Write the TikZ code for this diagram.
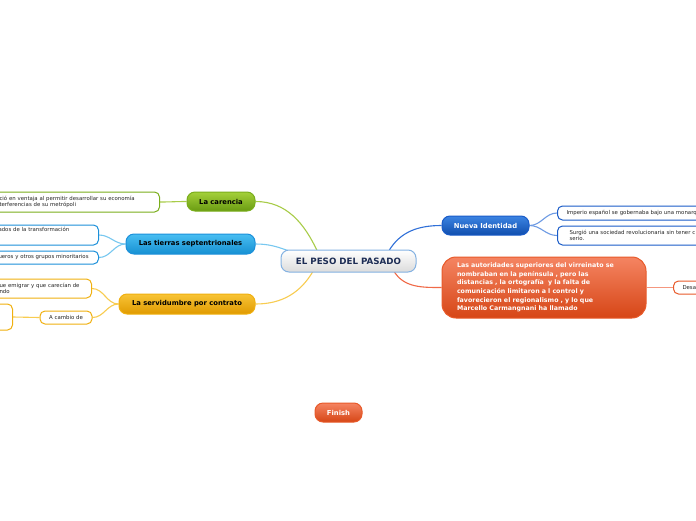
\documentclass[tikz,border=0pt]{standalone}
\usepackage{fontspec}
\setmainfont{DejaVu Sans}
\usetikzlibrary{calc,backgrounds}
\definecolor{grnT}{HTML}{A4D03A}
\definecolor{grnB}{HTML}{6A9C12}
\definecolor{grnD}{HTML}{7AAE1C}
\definecolor{grnL}{HTML}{A8CC48}
\definecolor{lbT}{HTML}{48BEF2}
\definecolor{lbB}{HTML}{1690D2}
\definecolor{lbD}{HTML}{1C90DA}
\definecolor{lbL}{HTML}{78C8F0}
\definecolor{yeT}{HTML}{F8C436}
\definecolor{yeB}{HTML}{E09A00}
\definecolor{yeD}{HTML}{F0B010}
\definecolor{yeL}{HTML}{F8CC50}
\definecolor{dbT}{HTML}{3C84E2}
\definecolor{dbB}{HTML}{104EAE}
\definecolor{dbD}{HTML}{1A5CC8}
\definecolor{dbL}{HTML}{3070D8}
\definecolor{rdT}{HTML}{F58462}
\definecolor{rdB}{HTML}{D64616}
\definecolor{rdD}{HTML}{E85A2A}
\definecolor{rdL}{HTML}{F06A48}
\definecolor{ctrB}{HTML}{84B2E2}
\definecolor{ctrT}{HTML}{1C2C54}
\tikzset{
  topic/.style={rounded corners=8pt, draw, line width=1pt, inner sep=0pt,
    align=center, font=\bfseries\fontsize{6.8}{8}\selectfont},
  sub/.style={rounded corners=5pt, draw, fill=white, line width=1pt, inner sep=0pt,
    font=\fontsize{5.4}{6.4}\selectfont, align=left, text=black!85},
  conn/.style={line width=1.1pt},
}
\begin{document}
\begin{tikzpicture}[x=1pt,y=-1pt]
\useasboundingbox (0,0) rectangle (696,520);
\clip (0,0) rectangle (696,520);

% central node
\node[topic, top color=white, bottom color=black!14, draw=ctrB, text=ctrT,
  minimum width=135pt, minimum height=22pt, font=\bfseries\fontsize{8.7}{10}\selectfont]
  (ctr) at (348.5,261) {EL PESO DEL PASADO};

% main branches
\node[topic, top color=grnT, bottom color=grnB, draw=grnD, text=black,
  minimum width=68pt, minimum height=19pt] (car) at (221,201.5) {La carencia};
\node[topic, top color=lbT, bottom color=lbB, draw=lbD, text=black,
  minimum width=129pt, minimum height=20pt] (tie) at (190.5,244) {Las tierras septentrionales};
\node[topic, top color=yeT, bottom color=yeB, draw=yeD, text=black,
  minimum width=136pt, minimum height=20pt] (ser) at (187,304) {La servidumbre por contrato};
\node[topic, top color=dbT, bottom color=dbB, draw=dbD, text=white,
  minimum width=87pt, minimum height=19pt] (nue) at (485.5,225.5) {Nueva Identidad};
\node[topic, top color=rdT, bottom color=rdB, draw=rdD, text=white,
  rounded corners=14pt, minimum height=61pt, text width=174pt, inner xsep=15pt,
  align=left, font=\bfseries\fontsize{6.3}{8.7}\selectfont]
  (red) at (544,287.5) {Las autoridades superiores del virreinato se\\
  nombraban en la península , pero las\\
  distancias , la ortografía \ y la falta de\\
  comunicación limitaron a l control y\\
  favorecieron el regionalismo , y lo que\\
  Marcello Carmangnani ha llamado};
\node[topic, top color=rdT, bottom color=rdB, draw=rdD, text=white,
  minimum width=47pt, minimum height=19pt] (fin) at (338.5,412.5) {Finish};

% sub topics
\node[sub, draw=grnD, anchor=east, minimum height=20pt, text width=150pt, inner xsep=10pt]
  (c1) at (160,202) {ció en ventaja al permitir desarrollar su economía\\terferencias de su metrópoli};
\node[sub, draw=lbD, anchor=east, minimum height=20pt, text width=95pt, inner xsep=5pt]
  (t1) at (99,235) {ados de la transformación\\[4pt]\mbox{}};
\node[sub, draw=lbD, anchor=east, minimum height=13pt, text width=95pt, inner xsep=5pt]
  (t2) at (99,257.5) {ueros y otros grupos minoritarios};
\node[sub, draw=yeD, anchor=east, minimum height=19pt, text width=82pt, inner xsep=10pt]
  (s1) at (92,288.5) {ue emigrar y que carecían de\\ndo};
\node[sub, draw=yeD, minimum width=52pt, minimum height=13pt, align=center]
  (s2) at (66,317.5) {A cambio de};
\node[sub, draw=yeD, anchor=east, minimum width=60pt, minimum height=26pt]
  (s3) at (13,317) {};
\node[sub, draw=dbD, anchor=west, minimum height=14pt, text width=160pt, inner xsep=9pt]
  (n1) at (557,213) {Imperio español se gobernaba bajo una monarquía};
\node[sub, draw=dbD, anchor=west, minimum height=19pt, text width=160pt, inner xsep=12pt]
  (n2) at (557,235.5) {Surgió una sociedad revolucionaria sin tener c\\serio.};
\node[sub, draw=rdD, anchor=west, minimum height=13pt, text width=40pt, inner xsep=9pt]
  (r1) at (673,287.5) {Desa};

% connectors
\begin{pgfonlayer}{background}
\fill[white] (0,0) rectangle (696,520);
\draw[conn, grnL] ($(ctr.north)+(-31,2)$) to[out=115,in=0] (car.east);
\draw[conn, lbL] ($(ctr.north west)+(10,2)$) to[out=160,in=0] (tie.east);
\draw[conn, yeL] ($(ctr.south)+(-35,-2)$) to[out=240,in=0] (ser.east);
\draw[conn, dbL] ($(ctr.north)+(40,2)$) to[out=60,in=180] (nue.west);
\draw[conn, rdL] ($(ctr.south)+(45,-2)$) to[out=-60,in=180] (red.west);

\draw[conn, grnL] (car.west) to[out=180,in=0] (c1.east);
\draw[conn, lbL] (tie.west) to[out=180,in=0] (t1.east);
\draw[conn, lbL] (tie.west) to[out=180,in=0] (t2.east);
\draw[conn, yeL] (ser.west) to[out=180,in=0] (s1.east);
\draw[conn, yeL] (ser.west) to[out=180,in=0] (s2.east);
\draw[conn, yeL] (s2.west) -- (s3.east);
\draw[conn, dbL!70] (nue.east) to[out=0,in=180] (n1.west);
\draw[conn, dbL!70] (nue.east) to[out=0,in=180] (n2.west);
\draw[conn, rdL!70] (red.east) -- (r1.west);
\end{pgfonlayer}
\end{tikzpicture}
\end{document}
